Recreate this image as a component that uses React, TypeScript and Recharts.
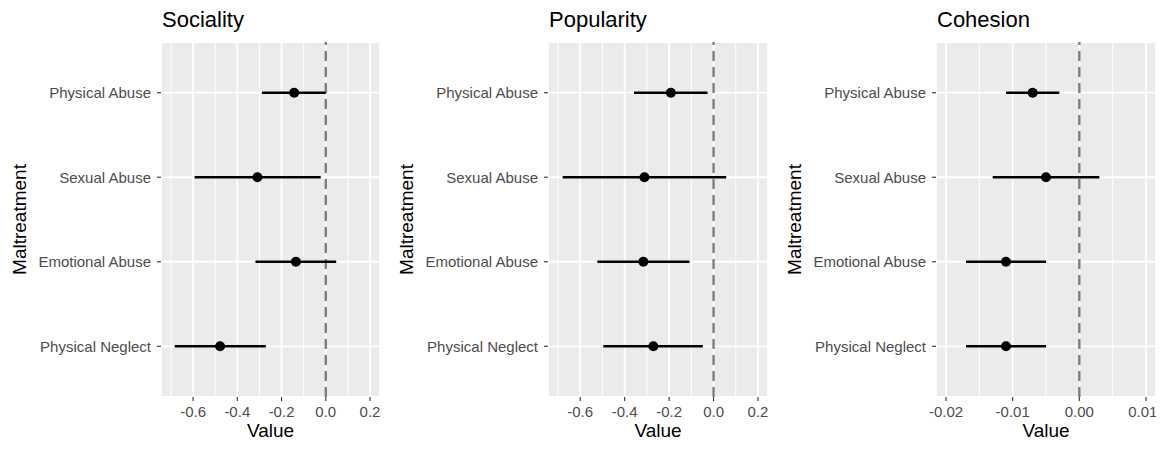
import {
  ScatterChart,
  Scatter,
  XAxis,
  YAxis,
  CartesianGrid,
  ReferenceLine,
  ErrorBar,
} from "recharts";

const CATEGORIES = [
  "Physical Abuse",
  "Sexual Abuse",
  "Emotional Abuse",
  "Physical Neglect",
];
// rows drawn top to bottom
const ROW_POS = [4, 3, 2, 1];

const SOCIALITY_EST = [-0.143, -0.309, -0.135, -0.478];
const SOCIALITY_LO = [-0.289, -0.593, -0.318, -0.683];
const SOCIALITY_HI = [0.0, -0.023, 0.047, -0.271];

const POPULARITY_EST = [-0.192, -0.311, -0.316, -0.271];
const POPULARITY_LO = [-0.358, -0.679, -0.523, -0.496];
const POPULARITY_HI = [-0.027, 0.057, -0.108, -0.048];

const COHESION_EST = [-0.007, -0.005, -0.011, -0.011];
const COHESION_LO = [-0.011, -0.013, -0.017, -0.017];
const COHESION_HI = [-0.003, 0.003, -0.005, -0.005];

const WIDE_TICKS = [-0.6, -0.4, -0.2, 0, 0.2];
const WIDE_MINOR = [-0.7, -0.5, -0.3, -0.1, 0.1];
const NARROW_TICKS = [-0.02, -0.01, 0, 0.01];
const NARROW_MINOR = [-0.015, -0.005, 0.005];

const FONT = "'Liberation Sans', Arial, Helvetica, sans-serif";
const H = 449;
const Y_AXIS_W = 161;

function buildRows(est: number[], lo: number[], hi: number[]) {
  return CATEGORIES.map((name, i) => ({
    name,
    x: est[i],
    y: ROW_POS[i],
    err: [est[i] - lo[i], hi[i] - est[i]],
  }));
}

interface PanelProps {
  title: string;
  left: number;
  plotWidth: number;
  domain: [number, number];
  ticks: number[];
  minor: number[];
  digits: number;
  est: number[];
  lo: number[];
  hi: number[];
}

function Panel({
  title,
  left,
  plotWidth,
  domain,
  ticks,
  minor,
  digits,
  est,
  lo,
  hi,
}: PanelProps) {
  const data = buildRows(est, lo, hi);
  return (
    <div style={{ position: "absolute", left, top: 0 }}>
      <div
        style={{
          position: "absolute",
          left: Y_AXIS_W + 1,
          top: 9,
          fontFamily: FONT,
          fontSize: 22,
          lineHeight: "22px",
          color: "#000",
          whiteSpace: "nowrap",
        }}
      >
        {title}
      </div>
      <ScatterChart
        width={Y_AXIS_W + plotWidth}
        height={H}
        margin={{ top: 42, right: 0, bottom: 0, left: 0 }}
        style={{ fontFamily: FONT }}
      >
        <CartesianGrid
          fill="#EBEBEB"
          stroke="#FFFFFF"
          strokeWidth={1.8}
        />
        {minor.map((m) => (
          <ReferenceLine
            key={m}
            x={m}
            stroke="#FFFFFF"
            strokeWidth={1}
          />
        ))}
        <ReferenceLine
          x={0}
          stroke="#7F7F7F"
          strokeWidth={2.4}
          strokeDasharray="10 6"
        />
        <XAxis
          type="number"
          dataKey="x"
          domain={domain}
          allowDataOverflow
          ticks={ticks}
          tickFormatter={(v: number) => v.toFixed(digits)}
          axisLine={false}
          tickSize={4}
          tickMargin={5}
          tickLine={{ stroke: "#333333", strokeWidth: 1.1 }}
          tick={{ fontSize: 15, fill: "#4D4D4D" }}
          height={52}
          label={{
            content: (p: any) => (
              <text
                x={p.viewBox.x + p.viewBox.width / 2}
                y={p.viewBox.y + 40}
                textAnchor="middle"
                fontSize={19}
                fill="#000"
              >
                Value
              </text>
            ),
          }}
        />
        <YAxis
          type="number"
          dataKey="y"
          domain={[0.4, 4.6]}
          ticks={ROW_POS}
          tickFormatter={(v: number) => CATEGORIES[ROW_POS.indexOf(v)]}
          axisLine={false}
          tickSize={4}
          tickMargin={6}
          tickLine={{ stroke: "#333333", strokeWidth: 1.1 }}
          tick={{ fontSize: 15, fill: "#4D4D4D" }}
          width={Y_AXIS_W}
          label={{
            content: (p: any) => {
              const cx = 19;
              const cy = p.viewBox.y + p.viewBox.height / 2;
              return (
                <text
                  x={cx}
                  y={cy}
                  transform={`rotate(-90 ${cx} ${cy})`}
                  textAnchor="middle"
                  dominantBaseline="central"
                  fontSize={19}
                  fill="#000"
                >
                  Maltreatment
                </text>
              );
            },
          }}
        />
        <Scatter
          data={data}
          isAnimationActive={false}
          shape={(p: any) => (
            <circle cx={p.cx} cy={p.cy} r={5} fill="#000000" />
          )}
        >
          <ErrorBar
            dataKey="err"
            direction="x"
            width={0}
            stroke="#000000"
            strokeWidth={2.4}
            isAnimationActive={false}
          />
        </Scatter>
      </ScatterChart>
    </div>
  );
}

export default function App() {
  return (
    <div
      style={{
        position: "absolute",
        left: 0,
        top: 0,
        width: 1171,
        height: H,
        background: "#fff",
        fontFamily: FONT,
      }}
    >
      <Panel
        title="Sociality"
        left={0}
        plotWidth={219}
        domain={[-0.745, 0.245]}
        ticks={WIDE_TICKS}
        minor={WIDE_MINOR}
        digits={1}
        est={SOCIALITY_EST}
        lo={SOCIALITY_LO}
        hi={SOCIALITY_HI}
      />
      <Panel
        title="Popularity"
        left={387}
        plotWidth={220}
        domain={[-0.745, 0.245]}
        ticks={WIDE_TICKS}
        minor={WIDE_MINOR}
        digits={1}
        est={POPULARITY_EST}
        lo={POPULARITY_LO}
        hi={POPULARITY_HI}
      />
      <Panel
        title="Cohesion"
        left={775}
        plotWidth={220}
        domain={[-0.0215, 0.0115]}
        ticks={NARROW_TICKS}
        minor={NARROW_MINOR}
        digits={2}
        est={COHESION_EST}
        lo={COHESION_LO}
        hi={COHESION_HI}
      />
    </div>
  );
}
